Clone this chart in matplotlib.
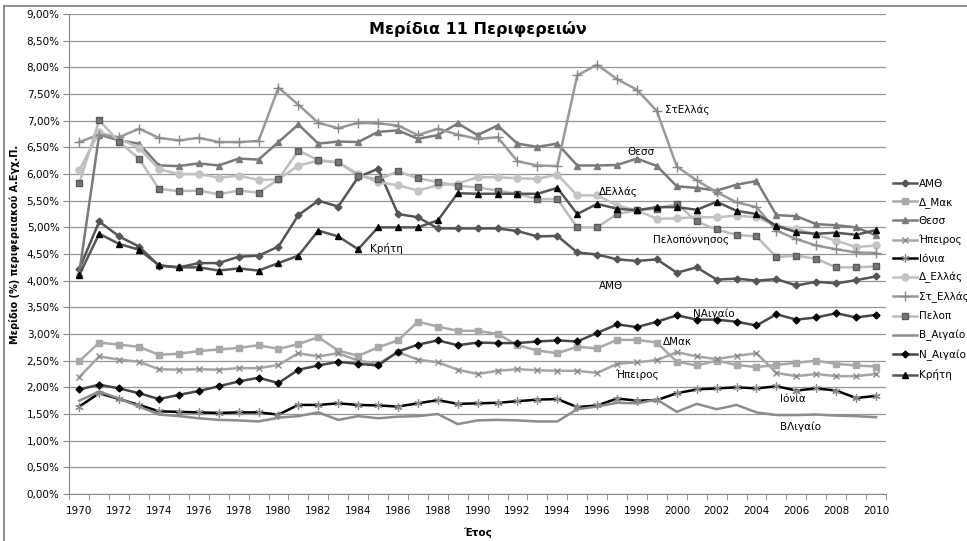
import matplotlib.pyplot as plt
from matplotlib.lines import Line2D
import numpy as np

years = list(range(1970, 2011))

amth = [4.22, 5.11, 4.83, 4.64, 4.28, 4.25, 4.33, 4.33, 4.45, 4.47,
        4.64, 5.23, 5.50, 5.39, 5.94, 6.10, 5.25, 5.19, 4.98, 4.98,
        4.98, 4.98, 4.93, 4.83, 4.84, 4.53, 4.49, 4.40, 4.37, 4.40,
        4.15, 4.25, 4.02, 4.04, 4.00, 4.03, 3.91, 3.98, 3.95, 4.01, 4.08]
d_mak = [2.49, 2.84, 2.80, 2.76, 2.61, 2.63, 2.68, 2.71, 2.74, 2.79,
         2.72, 2.81, 2.94, 2.69, 2.59, 2.75, 2.88, 3.23, 3.14, 3.06,
         3.06, 3.00, 2.79, 2.69, 2.64, 2.76, 2.73, 2.89, 2.89, 2.84,
         2.48, 2.41, 2.50, 2.42, 2.38, 2.42, 2.46, 2.50, 2.44, 2.41, 2.39]
thess = [4.15, 6.74, 6.63, 6.57, 6.16, 6.15, 6.20, 6.16, 6.29, 6.27,
         6.60, 6.93, 6.57, 6.61, 6.60, 6.79, 6.82, 6.66, 6.73, 6.95,
         6.73, 6.91, 6.57, 6.51, 6.57, 6.16, 6.16, 6.17, 6.29, 6.15,
         5.77, 5.74, 5.69, 5.80, 5.87, 5.23, 5.21, 5.06, 5.04, 5.00, 4.85]
ipeiros = [2.19, 2.58, 2.52, 2.48, 2.34, 2.33, 2.34, 2.33, 2.36, 2.36,
           2.42, 2.64, 2.58, 2.64, 2.50, 2.44, 2.66, 2.52, 2.47, 2.33,
           2.25, 2.31, 2.34, 2.32, 2.31, 2.31, 2.27, 2.44, 2.47, 2.51,
           2.66, 2.58, 2.53, 2.59, 2.64, 2.27, 2.21, 2.25, 2.21, 2.21, 2.25]
ionia = [1.64, 1.89, 1.78, 1.67, 1.55, 1.54, 1.53, 1.52, 1.53, 1.53,
         1.49, 1.67, 1.67, 1.70, 1.67, 1.66, 1.64, 1.70, 1.76, 1.69,
         1.70, 1.71, 1.74, 1.77, 1.78, 1.63, 1.66, 1.79, 1.75, 1.76,
         1.89, 1.96, 1.98, 2.00, 1.98, 2.02, 1.94, 1.98, 1.94, 1.80, 1.84]
d_ellas = [6.07, 6.79, 6.66, 6.49, 6.09, 6.00, 6.00, 5.93, 5.97, 5.89,
           5.90, 6.16, 6.25, 6.22, 6.00, 5.85, 5.79, 5.69, 5.79, 5.82,
           5.94, 5.94, 5.92, 5.91, 5.99, 5.60, 5.60, 5.41, 5.32, 5.16,
           5.17, 5.19, 5.19, 5.22, 5.19, 5.03, 4.97, 4.86, 4.75, 4.63, 4.66]
st_ellas = [6.60, 6.74, 6.69, 6.85, 6.68, 6.63, 6.68, 6.60, 6.60, 6.62,
            7.62, 7.30, 6.96, 6.86, 6.96, 6.95, 6.91, 6.73, 6.85, 6.74,
            6.66, 6.69, 6.24, 6.16, 6.15, 7.85, 8.05, 7.78, 7.58, 7.18,
            6.14, 5.88, 5.66, 5.47, 5.38, 4.94, 4.78, 4.66, 4.59, 4.53, 4.52]
pelop = [5.83, 7.01, 6.60, 6.29, 5.72, 5.68, 5.69, 5.62, 5.69, 5.65,
         5.90, 6.44, 6.26, 6.22, 5.97, 5.90, 6.05, 5.92, 5.85, 5.78,
         5.75, 5.69, 5.63, 5.53, 5.53, 5.00, 5.00, 5.25, 5.32, 5.35,
         5.44, 5.11, 4.96, 4.86, 4.83, 4.44, 4.47, 4.41, 4.25, 4.25, 4.27]
v_aigaio = [1.75, 1.92, 1.79, 1.64, 1.49, 1.46, 1.42, 1.39, 1.38, 1.36,
            1.43, 1.46, 1.53, 1.39, 1.46, 1.42, 1.45, 1.46, 1.50, 1.31,
            1.38, 1.39, 1.38, 1.36, 1.36, 1.59, 1.64, 1.71, 1.70, 1.77,
            1.54, 1.69, 1.59, 1.67, 1.53, 1.48, 1.48, 1.49, 1.47, 1.46, 1.44]
n_aigaio = [1.96, 2.05, 1.98, 1.89, 1.78, 1.86, 1.93, 2.02, 2.11, 2.18,
            2.08, 2.33, 2.41, 2.48, 2.44, 2.41, 2.67, 2.80, 2.88, 2.79,
            2.84, 2.83, 2.83, 2.86, 2.88, 2.86, 3.02, 3.18, 3.13, 3.23,
            3.35, 3.27, 3.27, 3.23, 3.16, 3.37, 3.27, 3.31, 3.39, 3.31, 3.36]
kriti = [4.11, 4.88, 4.69, 4.58, 4.29, 4.25, 4.25, 4.19, 4.23, 4.19,
         4.33, 4.47, 4.94, 4.83, 4.59, 5.00, 5.00, 5.00, 5.13, 5.64,
         5.63, 5.63, 5.63, 5.63, 5.74, 5.25, 5.44, 5.35, 5.32, 5.38,
         5.38, 5.33, 5.48, 5.31, 5.25, 5.03, 4.91, 4.88, 4.90, 4.86, 4.95]

# legend names and the in-plot labels
names = ['ΑΜΘ', 'Δ_Μακ', 'Θεσσ', 'Ήπειρος', 'Ιόνια', 'Δ_Ελλάς',
         'Στ_Ελλάς', 'Πελοπ', 'Β_Αιγαίο', 'Ν_Αιγαίο', 'Κρήτη']
note_text = ['ΣτΕλλάς', 'Θεσσ', 'ΔΕλλάς', 'Πελοπόννησος', 'ΑΜΘ', 'Κρήτη',
             'ΝΑιγαίο', 'ΔΜακ', 'Ήπειρος', 'Ιόνια', 'ΒΛιγαίο']
note_x = [1999.4, 1997.5, 1996.1, 1998.8, 1996.1, 1984.6,
          2000.8, 1999.3, 1996.9, 2005.2, 2005.2]
note_y = [7.2, 6.42, 5.67, 4.77, 3.9, 4.6, 3.38, 2.85, 2.23, 1.78, 1.26]

series = [amth, d_mak, thess, ipeiros, ionia, d_ellas,
          st_ellas, pelop, v_aigaio, n_aigaio, kriti]
styles = [
    dict(color='#555555', marker='D', ms=3.5, mfc='#555555', mec='#555555'),
    dict(color='#a8a8a8', marker='s', ms=4.5, mfc='#a8a8a8', mec='#a8a8a8'),
    dict(color='#7a7a7a', marker='^', ms=5, mfc='#7a7a7a', mec='#7a7a7a'),
    dict(color='#a5a5a5', marker='x', ms=5, mfc='none', mec='#8a8a8a', mew=1.0),
    dict(color='#000000', marker=(6, 2, 0), ms=6, mec='#8a8a8a', mew=0.9),
    dict(color='#c0c0c0', marker='o', ms=5, mfc='#c4c4c4', mec='#c4c4c4'),
    dict(color='#999999', marker='+', ms=7.5, mec='#888888', mew=1.0),
    dict(color='#bdbdbd', marker='s', ms=4.5, mfc='#767676', mec='#5a5a5a'),
    dict(color='#8c8c8c', marker=None),
    dict(color='#474747', marker='D', ms=3.5, mfc='#000000', mec='#000000'),
    dict(color='#555555', marker='^', ms=5, mfc='#000000', mec='#000000'),
]

plt.rcParams['font.family'] = ['DejaVu Sans']

fig = plt.figure(figsize=(9.67, 5.41), dpi=100)
ax = fig.add_axes([0.0717, 0.0869, 0.9162 - 0.0717, 0.974 - 0.0869])

for vals, name, st in zip(series, names, styles):
    ax.plot(years, vals, lw=1.8, label=name, **st)

ax.set_xlim(1969.5, 2010.5)
ax.set_ylim(0, 9)
yt = np.arange(0, 9.01, 0.5)
ax.set_yticks(yt)
ax.set_yticklabels([('%.2f' % v).replace('.', ',') + '%' for v in yt], fontsize=7.5)
ax.set_xticks(range(1970, 2011, 2))
ax.set_xticklabels([str(y) for y in range(1970, 2011, 2)], fontsize=7.5)
ax.set_xticks(np.arange(1969.5, 2010.6, 1), minor=True)
ax.tick_params(axis='x', which='major', length=0, pad=9)
ax.tick_params(axis='x', which='minor', length=4, color='#868686', direction='out')
ax.tick_params(axis='y', length=4, color='#868686', pad=3)

ax.grid(axis='y', color='#959595', lw=0.9)
ax.set_axisbelow(True)
for s in ['top', 'right']:
    ax.spines[s].set_visible(False)
ax.spines['left'].set_color('#868686')
ax.spines['bottom'].set_color('#868686')

ax.set_xlabel('Έτος', fontsize=7.5, fontweight='bold', labelpad=8)
ax.set_ylabel('Μερίδιο (%) περιφερειακού Α.Εγχ.Π.', fontsize=7, fontweight='bold', labelpad=4)
ax.yaxis.set_label_coords(-0.061, 0.52)
ax.text(0.5, 0.985, 'Μερίδια 11 Περιφερειών', transform=ax.transAxes,
        ha='center', va='top', fontsize=11.5, fontweight='bold')

for t, x, y in zip(note_text, note_x, note_y):
    ax.text(x, y, t, fontsize=7.5, va='center', ha='left')

fig.legend(loc='upper left', bbox_to_anchor=(0.9235, 0.67), frameon=False,
           fontsize=7.5, handlelength=2.3, handletextpad=0.15,
           labelspacing=0.8, borderpad=0, borderaxespad=0, numpoints=1)

# chart-area border (only left and top edges show in the picture)
fig.add_artist(Line2D([4 / 967, 4 / 967], [0, 1 - 6 / 541], transform=fig.transFigure,
                      color='#7a7a7a', lw=1.2))
fig.add_artist(Line2D([4 / 967, 1], [1 - 6 / 541, 1 - 6 / 541], transform=fig.transFigure,
                      color='#7a7a7a', lw=1.2))

plt.savefig('out.png', dpi=100)
